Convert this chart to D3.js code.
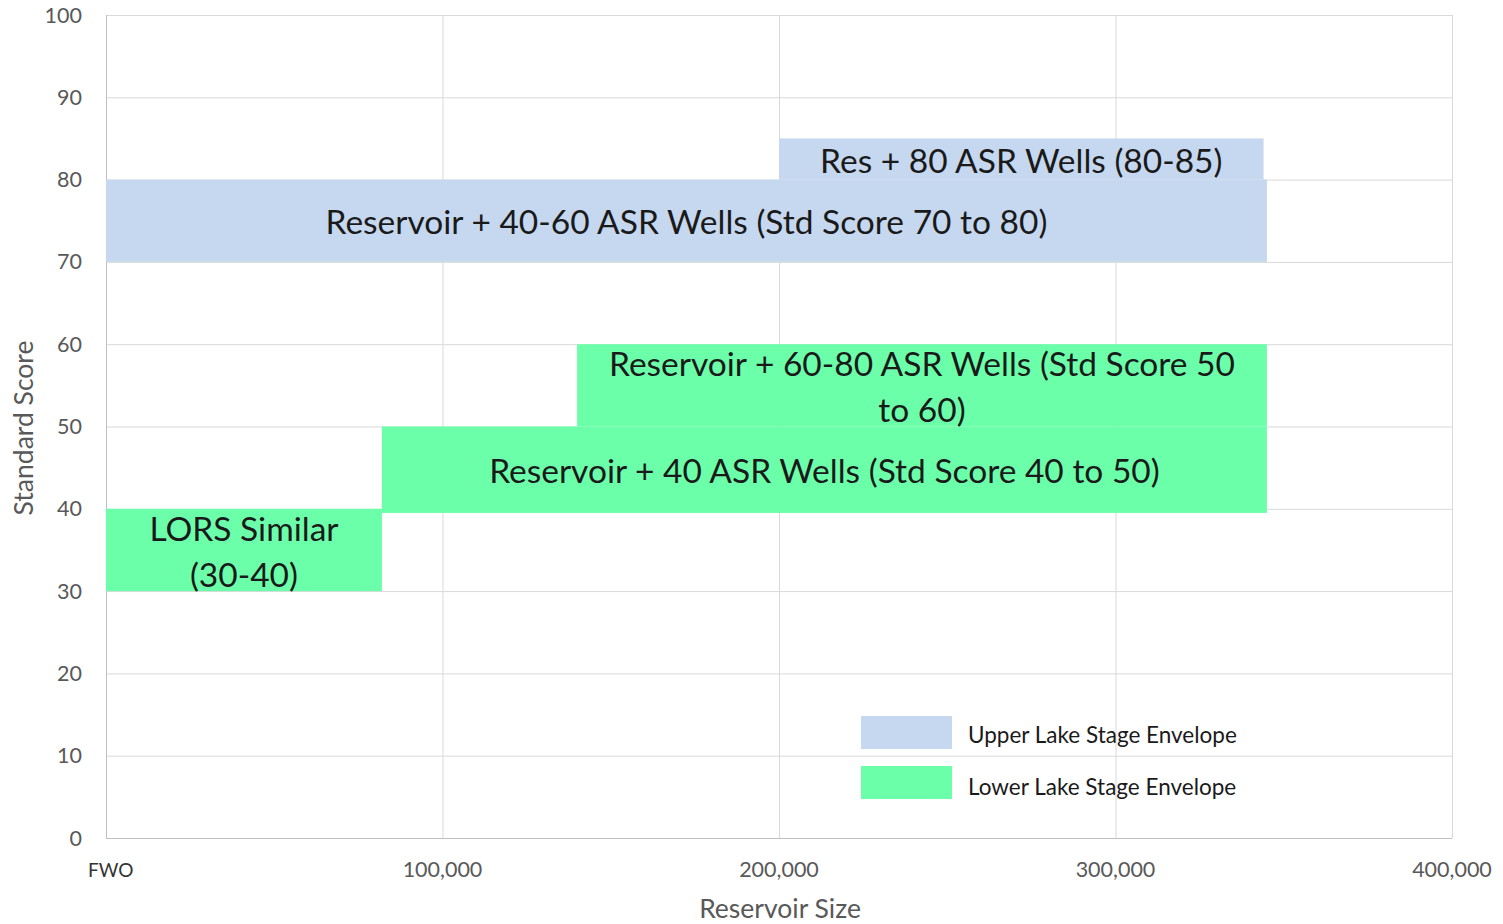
<!DOCTYPE html>
<html>
<head>
<meta charset="utf-8">
<script src="https://cdn.jsdelivr.net/npm/d3@7"></script>
<style>
  html,body{margin:0;padding:0;background:#fff;}
  svg{display:block;font-family:Lato,"Open Sans",sans-serif;}
</style>
</head>
<body>
<svg id="chart" width="1503" height="924"></svg>
<script>
// ── data ──
const xTicks=[0,100000,200000,300000,400000];
const xTickLabels=['FWO','100,000','200,000','300,000','400,000'];
const yTicks=[0,10,20,30,40,50,60,70,80,90,100];

// envelope blocks: [x0, x1, y0, y1]
const upperBlocks=[
  [0,345000,70,80],
  [200000,344000,80,85]
];
const lowerBlocks=[
  [0,82000,30,40],
  [82000,345000,39.5,50],
  [140000,345000,50,60]
];
const upperLabels=[
  ['Reservoir + 40-60 ASR Wells (Std Score 70 to 80)'],
  ['Res + 80 ASR Wells (80-85)']
];
const lowerLabels=[
  ['LORS Similar','(30-40)'],
  ['Reservoir + 40 ASR Wells (Std Score 40 to 50)'],
  ['Reservoir + 60-80 ASR Wells (Std Score 50','to 60)']
];
const legendNames=['Upper Lake Stage Envelope','Lower Lake Stage Envelope'];

const COL={upper:'#c6d8ef',lower:'#6bffaa',grid:'#d9d9d9',tick:'#595959',text:'#1a1a1a'};

const svg=d3.select('#chart');
const M={l:106,r:1452,t:15,b:838};
const x=d3.scaleLinear().domain([0,400000]).range([M.l,M.r]);
const y=d3.scaleLinear().domain([0,100]).range([M.b,M.t]);

// grid
svg.append('g').selectAll('line.h').data(yTicks).join('line')
  .attr('x1',M.l).attr('x2',M.r).attr('y1',d=>y(d)+0.5).attr('y2',d=>y(d)+0.5)
  .attr('stroke',COL.grid).attr('stroke-width',1);
svg.append('g').selectAll('line.v').data(xTicks).join('line')
  .attr('y1',M.t).attr('y2',M.b).attr('x1',d=>x(d)+0.5).attr('x2',d=>x(d)+0.5)
  .attr('stroke',d=>d===0?'#bfbfbf':COL.grid).attr('stroke-width',1);
svg.append('line').attr('x1',M.l).attr('x2',M.r).attr('y1',M.b+0.5).attr('y2',M.b+0.5)
  .attr('stroke','#bfbfbf');

// blocks
function drawBlocks(blocks,color){
  svg.append('g').selectAll('rect').data(blocks).join('rect')
    .attr('x',d=>x(d[0])).attr('width',d=>x(d[1])-x(d[0]))
    .attr('y',d=>y(d[3])).attr('height',d=>y(d[2])-y(d[3]))
    .attr('fill',color);
}
drawBlocks(upperBlocks,COL.upper);
drawBlocks(lowerBlocks,COL.lower);

// block labels, centred in each block
const LH=46;
function drawLabels(blocks,labels){
  blocks.forEach((b,i)=>{
    const cx=x((b[0]+b[1])/2), cy=y((b[2]+b[3])/2)+2;
    const lines=labels[i];
    const t=svg.append('text').attr('text-anchor','middle')
      .attr('font-size',33.5).attr('fill',COL.text);
    lines.forEach((s,j)=>{
      t.append('tspan').attr('x',cx)
        .attr('y',cy+(j-(lines.length-1)/2)*LH).attr('dy','0.35em').text(s);
    });
  });
}
drawLabels(upperBlocks,upperLabels);
drawLabels(lowerBlocks,lowerLabels);

// axes labels
svg.append('g').selectAll('text').data(yTicks).join('text')
  .attr('x',82).attr('y',d=>y(d)).attr('dy','0.35em').attr('text-anchor','end')
  .attr('font-size',21.5).attr('fill',COL.tick).text(d=>d);
svg.append('g').selectAll('text').data(xTicks).join('text')
  .attr('x',(d,i)=>i===0?88:x(d)).attr('y',877)
  .attr('text-anchor',(d,i)=>i===0?'start':'middle')
  .attr('font-size',(d,i)=>i===0?19:21.5)
  .attr('fill',(d,i)=>i===0?'#333':COL.tick)
  .text((d,i)=>xTickLabels[i]);

svg.append('text').attr('x',780).attr('y',918).attr('text-anchor','middle')
  .attr('font-size',26.5).attr('fill',COL.tick).text('Reservoir Size');
svg.append('text').attr('transform','translate(33,428) rotate(-90)')
  .attr('text-anchor','middle').attr('font-size',26.5).attr('fill',COL.tick).text('Standard Score');

// legend
const lg=svg.append('g');
[COL.upper,COL.lower].forEach((c,i)=>{
  lg.append('rect').attr('x',861).attr('y',716+i*50).attr('width',91).attr('height',33).attr('fill',c);
  lg.append('text').attr('x',968).attr('y',735+i*52).attr('dy','0.35em')
    .attr('font-size',22.5).attr('fill',COL.text).text(legendNames[i]);
});
</script>
</body>
</html>
